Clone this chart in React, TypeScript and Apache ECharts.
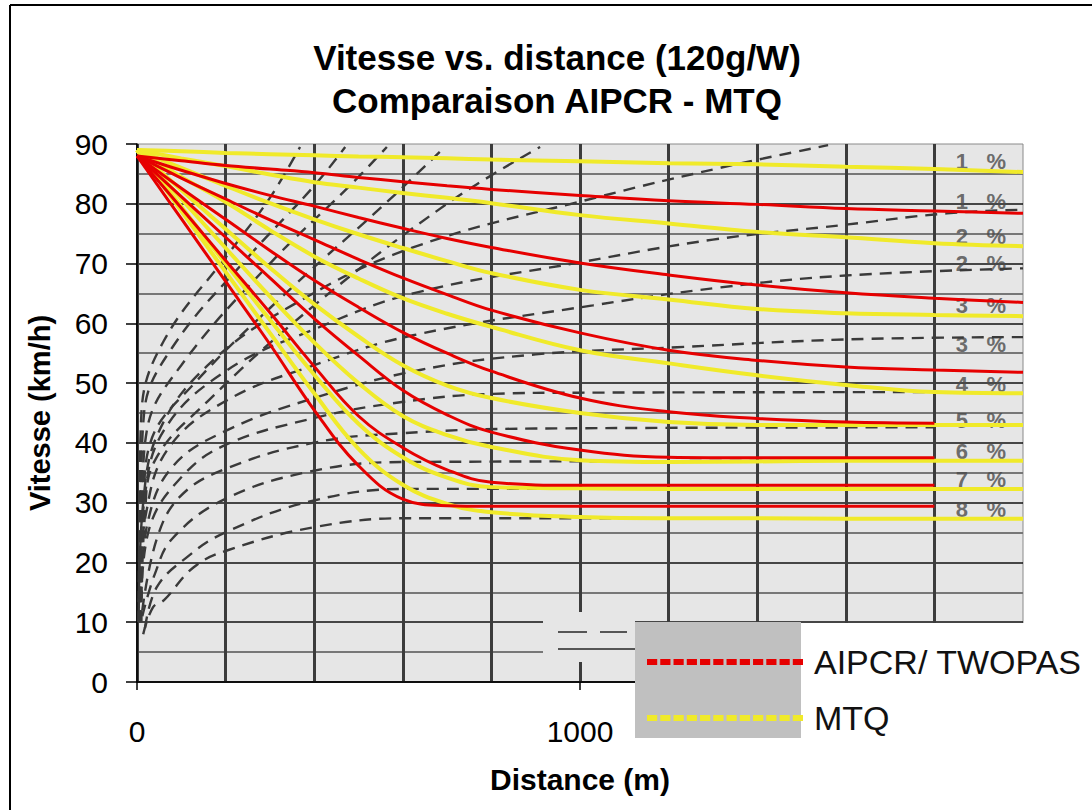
import React, { useEffect, useRef } from "react";
import * as echarts from "echarts";

const FONT = '"Liberation Sans", Arial, Helvetica, sans-serif';

// Common distance grid (m) for the speed curves
const distances = [0, 100, 200, 300, 400, 500, 600, 700, 800, 1000, 1200, 1400, 1600, 1800, 2000];

// AIPCR / TWOPAS curves (km/h)
const aipcr1 = [88, 87.2, 86.4, 85.8, 85.2, 84.4, 83.7, 83.0, 82.4, 81.4, 80.5, 79.9, 79.2, 78.8, 78.4];
const aipcr2 = [88, 85.6, 83.4, 81.4, 79.6, 77.7, 75.9, 74.2, 72.7, 70.1, 68.1, 66.4, 65.1, 64.2, 63.5];
const aipcr3 = [88, 84.3, 80.8, 77.3, 74.0, 70.7, 67.6, 64.8, 62.2, 58.4, 55.5, 53.8, 52.7, 52.2, 51.8];
const aipcr4 = [88, 82.6, 77.4, 72.2, 67.2, 62.7, 58.5, 55.0, 52.0, 47.5, 45.2, 44.1, 43.5, 43.3, null];
const aipcr5 = [88, 81.2, 74.4, 67.6, 60.8, 54.6, 48.8, 44.7, 41.8, 38.8, 37.6, 37.5, 37.5, 37.5, null];
const aipcr6 = [88, 79.3, 70.5, 61.8, 52.8, 44.5, 39.2, 35.5, 33.4, 32.9, 32.9, 32.9, 32.9, 32.9, null];
const aipcr7 = [88, 77.5, 67.0, 56.5, 45.5, 36.2, 30.6, 29.5, 29.4, 29.4, 29.4, 29.4, 29.4, 29.4, null];

// MTQ curves (km/h)
const mtq1 = [89, 88.8, 88.5, 88.3, 88.1, 87.9, 87.8, 87.6, 87.4, 87.1, 86.8, 86.6, 86.2, 85.8, 85.3];
const mtq2 = [89, 87.6, 86.3, 84.9, 83.6, 82.7, 81.8, 81.0, 80.1, 78.1, 76.7, 75.3, 74.4, 73.4, 72.9];
const mtq3 = [89, 86.0, 83.0, 80.1, 77.4, 74.9, 72.6, 70.4, 68.4, 65.6, 64.0, 62.4, 61.7, 61.4, 61.2];
const mtq4 = [89, 84.5, 80.3, 75.6, 71.2, 67.5, 64.2, 61.6, 59.4, 55.5, 53.3, 51.3, 49.7, 48.5, 48.3];
const mtq5 = [89, 82.3, 75.8, 69.3, 63.2, 57.8, 53.0, 49.6, 47.5, 45.0, 43.5, 43.0, 43.0, 43.0, 43.0];
const mtq6 = [89, 80.8, 72.6, 64.5, 56.8, 50.0, 44.5, 41.3, 39.3, 37.1, 36.8, 36.9, 37.0, 37.0, 37.0];
const mtq7 = [89, 79.5, 70.0, 60.6, 51.4, 43.2, 37.6, 34.2, 32.6, 32.4, 32.3, 32.3, 32.3, 32.3, 32.3];
const mtq8 = [89, 78.8, 68.6, 58.4, 48.3, 39.0, 33.0, 29.8, 28.4, 27.6, 27.4, 27.4, 27.3, 27.3, 27.3];

const aipcrCurves = [aipcr1, aipcr2, aipcr3, aipcr4, aipcr5, aipcr6, aipcr7];
const mtqCurves = [mtq1, mtq2, mtq3, mtq4, mtq5, mtq6, mtq7, mtq8];

// Background (scanned) acceleration curves: [distance m, speed km/h]
const accelM5 = [[3, 10], [6, 30], [10, 45], [60, 57], [210, 72], [300, 81], [368, 89.5]];
const accelM4 = [[5, 10], [9, 30], [16, 45], [80, 56], [250, 71], [400, 83], [470, 89.5]];
const accelM3 = [[6, 10], [12, 30], [22, 42], [100, 53], [300, 70], [480, 83], [564, 89.5]];
const accelM2 = [[8, 10], [15, 30], [30, 40], [130, 50], [350, 66], [560, 80], [695, 89.5]];
const accelM1 = [[10, 10], [18, 28], [40, 37], [160, 47], [400, 63], [700, 80], [910, 89.5]];
const accel0 = [[4, 12], [14, 30], [50, 42], [160, 53], [350, 63], [623, 72.7], [1045, 81.2], [1316, 86], [1560, 89.8]];
const accel1 = [[5, 14], [16, 30], [60, 42], [200, 52], [400, 59], [623, 65], [1000, 70.2], [1300, 74], [1600, 76.5], [1828, 78.4], [2000, 79]];
const accel2 = [[6, 14], [20, 28], [70, 39], [200, 47], [400, 53], [623, 58], [1029, 63], [1316, 66], [1600, 68], [2000, 69.2]];
const accel3 = [[8, 14], [25, 27], [80, 36], [200, 42], [400, 47.5], [639, 52.2], [900, 54.8], [1219, 56], [1600, 57.3], [2000, 57.7]];
const accel4 = [[10, 14], [29, 26], [97, 34], [195, 39.5], [397, 44.1], [594, 46.8], [800, 48.2], [1000, 48.4], [1842, 48.5]];
const accel5 = [[12, 12], [45, 24], [97, 31], [195, 35.5], [397, 40], [594, 41.6], [900, 42.4], [1800, 42.6]];
const accel6 = [[12, 11], [40, 18], [80, 24], [196, 30.5], [390, 35.2], [600, 36.8], [1800, 37]];
const accel7 = [[18, 9], [45, 15.9], [113, 20.9], [196, 24.9], [390, 30.2], [609, 32.3], [1800, 32.3]];
const accel8 = [[14, 8], [36, 12.5], [61, 13.7], [128, 19.2], [203, 22], [400, 25.9], [609, 27.4], [1800, 27.4]];

const accelCurves = [accelM5, accelM4, accelM3, accelM2, accelM1, accel0, accel1, accel2, accel3, accel4, accel5, accel6, accel7, accel8];

// Grade labels printed on the scanned chart
const gradeLabels = ["1   %", "1   %", "2   %", "2   %", "3   %", "3   %", "4   %", "5   %", "6   %", "7   %", "8   %"];
const gradeLabelSpeeds = [87.0, 80.4, 74.5, 70.0, 62.9, 56.4, 49.8, 43.8, 38.6, 33.9, 28.9];
const gradeLabelDistance = 1905;

const RED = "#e60000";
const YELLOW = "#f0ea2a";
const SCAN_BG = "#e6e6e6";

const dashIcon = (() => {
  let d = "path://";
  for (let i = 0; i < 12; i++) {
    const x = i * 13;
    d += `M${x},0h10v6h-10z `;
  }
  return d.trim();
})();

const toPairs = (speeds: (number | null)[]) =>
  distances.map((d, i) => [d, speeds[i]]).filter((p) => p[1] != null);

export default function App() {
  const ref = useRef<HTMLDivElement>(null);

  useEffect(() => {
    if (!ref.current) return;
    const chart = echarts.init(ref.current, null, { renderer: "svg" });

    const series: any[] = [];

    series.push({
      name: "labels",
      type: "scatter",
      z: 1,
      symbolSize: 1,
      itemStyle: { color: "rgba(0,0,0,0)" },
      silent: true,
      data: gradeLabels.map((t, i) => ({ name: t, value: [gradeLabelDistance, gradeLabelSpeeds[i]] })),
      label: {
        show: true,
        position: "inside",
        formatter: "{b}",
        fontFamily: FONT,
        fontWeight: "bold",
        fontSize: 22,
        color: "#4a4a4a",
      },
    });

    accelCurves.forEach((c, i) => {
      series.push({
        name: "scan" + i,
        type: "line",
        data: c,
        smooth: 0.4,
        showSymbol: false,
        silent: true,
        z: 2,
        lineStyle: { color: "#3a3a3a", width: 2.4, type: [12, 8] },
      });
    });

    mtqCurves.forEach((c) => {
      series.push({
        name: "MTQ",
        type: "line",
        data: toPairs(c),
        smooth: 0.4,
        showSymbol: false,
        silent: true,
        z: 3,
        color: YELLOW,
        lineStyle: { color: YELLOW, width: 4 },
      });
    });

    aipcrCurves.forEach((c) => {
      series.push({
        name: "AIPCR/ TWOPAS",
        type: "line",
        data: toPairs(c),
        smooth: 0.4,
        showSymbol: false,
        silent: true,
        z: 3,
        color: RED,
        lineStyle: { color: RED, width: 3 },
      });
    });

    chart.setOption({
      animation: false,
      backgroundColor: "#ffffff",
      title: {
        text: "Vitesse vs. distance (120g/W)\nComparaison AIPCR - MTQ",
        left: 552,
        top: 31,
        textAlign: "center",
        textStyle: {
          fontFamily: FONT,
          fontSize: 35,
          fontWeight: "bold",
          lineHeight: 43,
          color: "#000",
        },
      },
      legend: {
        data: ["AIPCR/ TWOPAS", "MTQ"],
        orient: "vertical",
        left: 642,
        top: 639,
        itemWidth: 156,
        itemHeight: 6,
        itemGap: 20,
        icon: dashIcon,
        symbolKeepAspect: false,
        selectedMode: false,
        z: 6,
        textStyle: {
          fontFamily: FONT,
          fontSize: 34,
          lineHeight: 36,
          color: "#111",
          padding: [0, 0, 0, 6],
        },
      },
      grid: {
        left: 137,
        top: 144,
        width: 886,
        height: 538,
        show: true,
        backgroundColor: SCAN_BG,
        borderColor: "#8a8a8a",
        borderWidth: 1,
      },
      xAxis: {
        type: "value",
        min: 0,
        max: 2000,
        interval: 1000,
        name: "Distance (m)",
        nameLocation: "middle",
        nameGap: 82,
        nameTextStyle: { fontFamily: FONT, fontSize: 30, fontWeight: "bold", color: "#000" },
        axisLine: { show: true, lineStyle: { color: "#000", width: 1.5 } },
        axisTick: { show: true, length: 8, lineStyle: { color: "#000", width: 1.5 } },
        axisLabel: {
          fontFamily: FONT,
          fontSize: 30,
          color: "#000",
          margin: 34,
          showMaxLabel: false,
          formatter: (v: number) => String(v),
        },
        splitLine: { show: true, showMaxLine: false, lineStyle: { color: "#3c3c3c", width: 3 } },
        minorTick: { show: false, splitNumber: 5 },
        minorSplitLine: { show: true, lineStyle: { color: "#3c3c3c", width: 3 } },
      },
      yAxis: {
        type: "value",
        min: 0,
        max: 90,
        interval: 10,
        name: "Vitesse (km/h)",
        nameLocation: "middle",
        nameGap: 83,
        nameTextStyle: { fontFamily: FONT, fontSize: 29, fontWeight: "bold", color: "#000" },
        axisLine: { show: true, lineStyle: { color: "#000", width: 1.5 } },
        axisTick: { show: true, length: 11, lineStyle: { color: "#000", width: 1.5 } },
        axisLabel: { fontFamily: FONT, fontSize: 30, color: "#000", margin: 29 },
        splitLine: { show: true, showMaxLine: false, lineStyle: { color: "#111", width: 1.5 } },
        minorTick: { show: false, splitNumber: 2 },
        minorSplitLine: { show: true, lineStyle: { color: "#777", width: 2 } },
      },
      graphic: [
        { type: "line", z: 10, shape: { x1: 10, y1: 5, x2: 10, y2: 810 }, style: { stroke: "#000", lineWidth: 2 } },
        { type: "line", z: 10, shape: { x1: 10, y1: 5, x2: 1092, y2: 5 }, style: { stroke: "#000", lineWidth: 2 } },
        { type: "rect", z: 1, shape: { x: 543, y: 612, width: 92, height: 50 }, style: { fill: SCAN_BG } },
        { type: "line", z: 1, shape: { x1: 558, y1: 632, x2: 587, y2: 632 }, style: { stroke: "#555", lineWidth: 2 } },
        { type: "line", z: 1, shape: { x1: 600, y1: 632, x2: 627, y2: 632 }, style: { stroke: "#555", lineWidth: 2 } },
        { type: "line", z: 1, shape: { x1: 558, y1: 649, x2: 635, y2: 649 }, style: { stroke: "#555", lineWidth: 2 } },
        { type: "rect", z: 5, shape: { x: 801, y: 623, width: 291, height: 114 }, style: { fill: "#ffffff" } },
        { type: "rect", z: 5, shape: { x: 635, y: 622, width: 166, height: 116 }, style: { fill: "#c0c0c0" } },
      ],
      series,
    });

    return () => chart.dispose();
  }, []);

  return (
    <div
      ref={ref}
      style={{ position: "absolute", left: 0, top: 0, width: 1092, height: 810, background: "#fff" }}
    />
  );
}
